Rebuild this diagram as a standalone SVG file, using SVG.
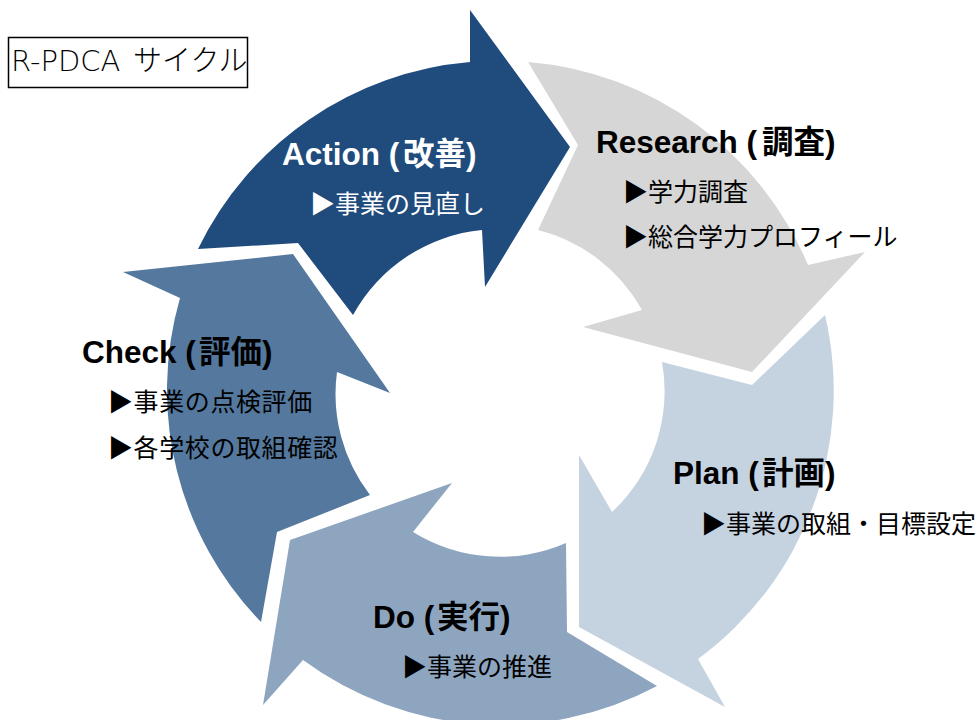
<svg xmlns="http://www.w3.org/2000/svg" width="980" height="720" viewBox="0 0 980 720">
<style>
.ttl{font-family:"Liberation Sans","Noto Sans CJK JP",sans-serif;font-weight:bold;font-size:31.5px;fill:#000}
.bul{font-family:"Noto Sans CJK JP",sans-serif;font-size:25px;fill:#000}
.wht{fill:#fff}
.sp{letter-spacing:0.6px}
</style>
<rect width="980" height="720" fill="#fff"/>
<g id="title-box">
<rect x="8.5" y="37.5" width="239" height="50" fill="#fff" stroke="#000" stroke-width="1.5"/>
<text x="11" y="71" font-family="'DejaVu Sans','Noto Sans CJK JP',sans-serif" font-weight="200" font-size="29" fill="#000">R-PDCA<tspan x="133">サイクル</tspan></text>
</g>
<g id="connectors"></g>
<g id="action">
<path d="M198,249 A333,333 0 0 1 470,62 L470,10 L570,147 L485,287 L482,230 A165,165 0 0 0 353,315 L298,243 Z" fill="#1F4B7D"/>
<text class="ttl wht" x="282" y="165">Action (<tspan x="403">改善</tspan>)</text>
<text class="bul wht" x="310" y="213">▶事業の見直し</text>
</g>
<g id="research">
<path d="M528,62 A333,333 0 0 1 808,265 L865,252 L752,372 L583,327 L642,310 A165,165 0 0 0 538,230 L578,145 Z" fill="#D6D6D6"/>
<text class="ttl" x="596" y="153">Research (<tspan x="762">調査</tspan>)</text>
<text class="bul" x="623" y="201">▶学力調査</text>
<text class="bul" x="623" y="246">▶総合学力プロフィール</text>
</g>
<g id="plan">
<path d="M825,315 A333,333 0 0 1 698,659 L725,707 L579,627 L579,455 L612,512 A165,165 0 0 0 662,362 L752,385 Z" fill="#C5D2E0"/>
<text class="ttl" x="673" y="484">Plan (<tspan x="762">計画</tspan>)</text>
<text class="bul" x="701" y="533">▶事業の取組・目標設定</text>
</g>
<g id="do">
<path d="M657,686 A333,333 0 0 1 303,660 L263,705 L290,540 L452,483 L413,532 A165,165 0 0 0 566,543 L567,632 Z" fill="#8EA5C0"/>
<text class="ttl" x="373" y="628">Do (<tspan x="437">実行</tspan>)</text>
<text class="bul" x="402" y="676">▶事業の推進</text>
</g>
<g id="check">
<path d="M261,622 A333,333 0 0 1 180,298 L123,272 L293,254 L390,393 L337,372 A165,165 0 0 0 370,495 L277,532 Z" fill="#54789E"/>
<text class="ttl" x="82" y="363">Check (<tspan x="199">評価</tspan>)</text>
<text class="bul sp" x="108" y="411">▶事業の点検評価</text>
<text class="bul sp" x="108" y="457">▶各学校の取組確認</text>
</g>
</svg>
